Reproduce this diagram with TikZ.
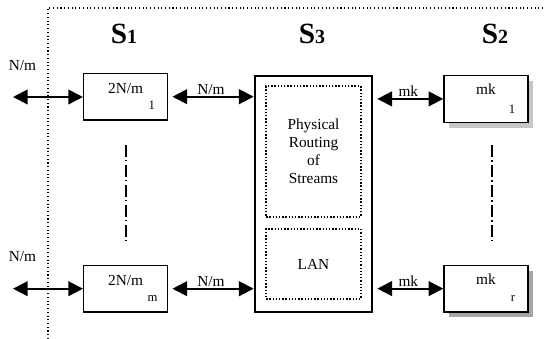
\documentclass[tikz,border=0pt]{standalone}
\usepackage{fontspec}
\setmainfont{Liberation Serif}
\usetikzlibrary{arrows.meta,shadows}

\newcommand{\ssub}[1]{{\fontsize{15}{15}\selectfont #1}}

\begin{document}
\begin{tikzpicture}[
    x = 0.75pt, y = -0.75pt, % grid of the picture, y runs downwards
    > = {Triangle[length=11pt,width=11pt]}, % arrow head style
    node distance = 144pt, % distance between the boxes of one column
    font = \fontsize{11.5}{13.5}\selectfont
  ]

  \tikzstyle{box}=[rectangle,draw=black,line width=1.1pt,minimum width=63pt,minimum height=35pt]
  \tikzstyle{kbox}=[box,fill=white,copy shadow={shadow xshift=3.5pt,shadow yshift=-4pt,draw=none,fill=#1}]
  \tikzstyle{bigbox}=[rectangle,draw=black,line width=1.8pt,minimum width=88pt,minimum height=177pt]
  \tikzstyle{inner}=[rectangle,draw=black,line width=1.1pt,dash pattern=on 1pt off 1.4pt,minimum width=71pt,align=center]
  \tikzstyle{link}=[<->,line width=1.5pt]
  \tikzstyle{dashdot}=[line width=1.5pt,dash pattern=on 9pt off 2.5pt on 1pt off 2.5pt]
  \tikzstyle{slabel}=[anchor=base,font=\bfseries\fontsize{22}{24}\selectfont,inner sep=0pt]
  \tikzstyle{subtext}=[anchor=base east,font=\fontsize{9.5}{11}\selectfont,inner sep=0pt]

  \useasboundingbox (0,0) rectangle (546,339);

  % stage boundary
  \draw[line width=0.8pt,dotted] (48,339) -- (48,8) -- (546,8);

  % stage titles
  \node[slabel] (s1) at (124,43.3) {S\ssub{1}};
  \node[slabel] (s3l) at (312,43.3) {S\ssub{3}};
  \node[slabel] (s2) at (495,43.3) {S\ssub{2}};

  % S1 boxes
  \node[box] (b1) at (125.7,96.7) {};
  \node[box] (bm) [below of=b1] {};
  \node[anchor=base,inner sep=0pt] (b1t) at ([yshift=-16pt]b1.north) {2N/m};
  \node[subtext] (b1s) at ([xshift=-10pt,yshift=8.7pt]b1.south east) {1};
  \node[anchor=base,inner sep=0pt] (bmt) at ([yshift=-16pt]bm.north) {2N/m};
  \node[subtext] (bms) at ([xshift=-8pt,yshift=8.7pt]bm.south east) {m};

  % S3 box
  \node[bigbox] (s3) at (313.5,194) {};
  \node[inner,minimum height=98pt] (route) at (313.5,151.5) {Physical\\Routing\\of\\Streams};
  \node[inner,minimum height=52.5pt] (lan) at (313.5,264) {LAN};

  % S2 boxes
  \node[kbox=gray!45] (k1) at (486,98.9) {};
  \node[kbox=gray!70] (kr) [below of=k1, node distance=142.3pt] {};
  \node[anchor=base,inner sep=0pt] (k1t) at ([yshift=-15pt]k1.north) {mk};
  \node[subtext] (k1s) at ([xshift=-10pt,yshift=7pt]k1.south east) {1};
  \node[anchor=base,inner sep=0pt] (krt) at ([yshift=-15pt]kr.north) {mk};
  \node[subtext] (krs) at ([xshift=-10pt,yshift=8.5pt]kr.south east) {r};

  % outside inputs
  \coordinate (in1) at (13,97);
  \coordinate (inm) at (13,288.7);
  \node (n1) at (22.5,66) {N/m};
  \node (nm) at (22.5,257) {N/m};

  \draw[link] (in1) -- (in1 -| b1.west);
  \draw[link] (inm) -- (inm -| bm.west);
  \draw[link, shorten <=3pt] (b1.east) -- (b1.east -| s3.west)
    node[midway, anchor=base, yshift=1.5pt, inner sep=0pt] (l1) {N/m};
  \draw[link, shorten <=3pt] (bm.east) -- (bm.east -| s3.west)
    node[midway, anchor=base, yshift=1.5pt, inner sep=0pt] (lm) {N/m};
  \draw[link, shorten <=3pt] (k1.west -| s3.east) -- (k1.west)
    node[midway, anchor=base, yshift=1.5pt, inner sep=0pt] (r1) {mk};
  \draw[link, shorten <=3pt] (kr.west -| s3.east) -- (kr.west)
    node[midway, anchor=base, yshift=1.5pt, inner sep=0pt] (rr) {mk};

  % more boxes in between
  \draw[dashdot, shorten <=18pt, shorten >=18pt] (b1.south) -- (bm.north);
  \draw[dashdot, shorten <=16.5pt, shorten >=18pt] ([xshift=4.5pt]k1.south) -- ([xshift=4.5pt]kr.north);

\end{tikzpicture}
\end{document}
